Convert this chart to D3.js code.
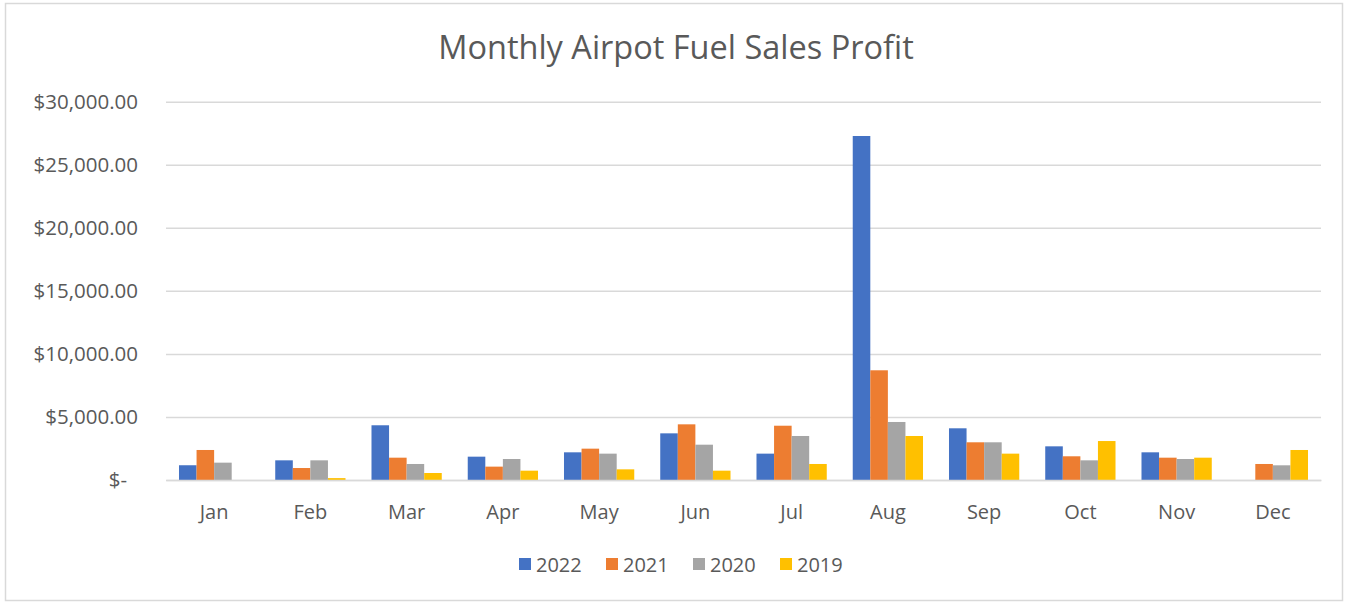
<!DOCTYPE html>
<html><head><meta charset="utf-8">
<script src="https://cdn.jsdelivr.net/npm/d3@7"></script>
<style>body{margin:0;background:#fff;}svg{display:block;font-family:"Open Sans",sans-serif;}</style>
</head><body>
<svg id="c" width="1348" height="603"></svg>
<script>
const months = ["Jan","Feb","Mar","Apr","May","Jun","Jul","Aug","Sep","Oct","Nov","Dec"];
const seriesNames = ["2022","2021","2020","2019"];
const s2022 = [1170,1560,4340,1850,2195,3700,2090,27280,4100,2670,2195,0];
const s2021 = [2380,950,1770,1060,2485,4415,4305,8700,2990,1880,1770,1270];
const s2020 = [1375,1560,1270,1665,2090,2800,3490,4600,2990,1560,1665,1165];
const s2019 = [0,150,555,740,845,740,1270,3490,2090,3090,1770,2380];
const yTicks = [0,5000,10000,15000,20000,25000,30000];
const colors = ["#4472C4","#ED7D31","#A5A5A5","#FFC000"];
const title = "Monthly Airpot Fuel Sales Profit";

const values = [s2022,s2021,s2020,s2019];
const svg = d3.select("#c");
svg.append("rect").attr("x",5.5).attr("y",3.5).attr("width",1337).attr("height",597)
  .attr("fill","#fff").attr("stroke","#d9d9d9").attr("stroke-width",1.5);

const m = {left:166,right:1321,top:101.7,bottom:480};
const x = d3.scaleBand().domain(months).range([m.left,m.right]).paddingInner(0.27).paddingOuter(0.135);
const xs = d3.scaleBand().domain(seriesNames).range([0,x.bandwidth()]);
const y = d3.scaleLinear().domain([0,30000]).range([m.bottom,m.top]);

svg.append("text").attr("x",676).attr("y",59).attr("text-anchor","middle")
  .attr("font-size",32.5).attr("fill","#595959").text(title);

const fmt = v => v===0 ? "$-" : "$" + d3.format(",.2f")(v);
const yAxis = svg.append("g").attr("transform",`translate(${m.left},0)`)
  .call(d3.axisLeft(y).tickValues(yTicks).tickSize(-(m.right-m.left)).tickFormat(fmt).tickPadding(28));
yAxis.select(".domain").remove();
yAxis.selectAll(".tick line").attr("stroke","#d9d9d9").attr("stroke-width",1.5);
yAxis.selectAll(".tick text").attr("font-size",20.5).attr("fill","#595959").attr("font-family","Open Sans, sans-serif")
  .attr("dx", d => d===0 ? -11 : 0);

const g = svg.append("g");
seriesNames.forEach((s,i)=>{
  g.selectAll(null).data(months.map((mo,j)=>({mo,v:values[i][j]}))).enter().append("rect")
    .attr("x",d=>x(d.mo)+xs(s)).attr("width",xs.bandwidth())
    .attr("y",d=>y(d.v)).attr("height",d=>y(0)-y(d.v)).attr("fill",colors[i]);
});

const xAxis = svg.append("g").attr("transform",`translate(0,${m.bottom})`)
  .call(d3.axisBottom(x).tickSize(0).tickPadding(25));
xAxis.select(".domain").attr("stroke","#d9d9d9").attr("stroke-width",1.5);
xAxis.selectAll(".tick text").attr("font-size",20).attr("fill","#595959").attr("font-family","Open Sans, sans-serif");

const leg = svg.append("g");
seriesNames.forEach((s,i)=>{
  const lx = 519 + i*87;
  leg.append("rect").attr("x",lx).attr("y",558).attr("width",12).attr("height",12).attr("fill",colors[i]);
  leg.append("text").attr("x",lx+17).attr("y",572).attr("font-size",20).attr("fill","#595959").text(s);
});
</script>
</body></html>
